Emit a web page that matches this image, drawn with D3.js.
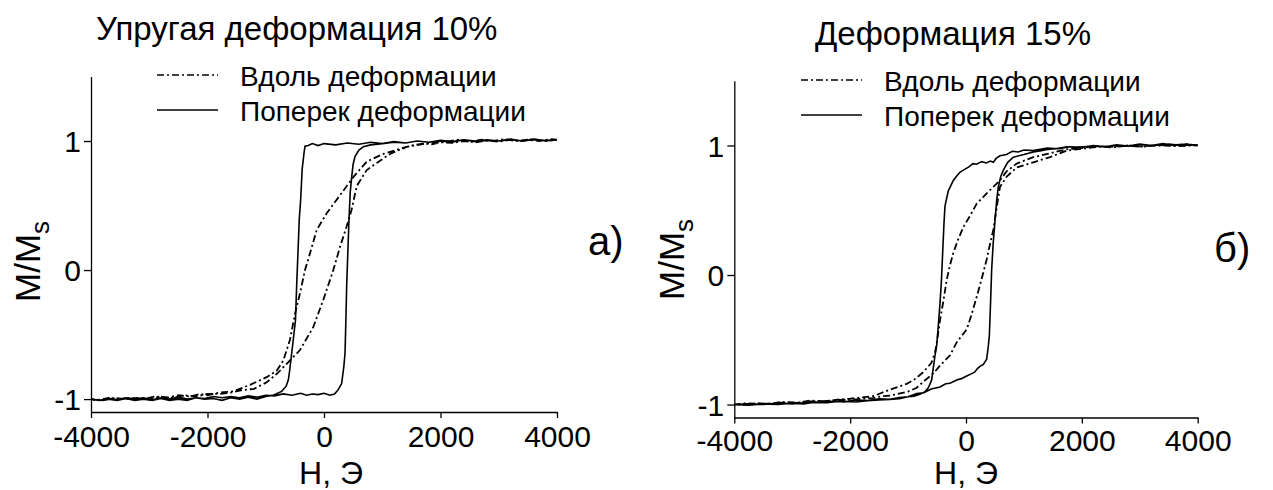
<!DOCTYPE html>
<html><head><meta charset="utf-8">
<script src="https://cdn.jsdelivr.net/npm/d3@7/dist/d3.min.js"></script>
<style>
body{margin:0;background:#fff;}
svg{display:block;font-family:"Liberation Sans",Arial,sans-serif;}
</style></head>
<body><svg id="c" width="1273" height="490"></svg>
<script>
// ---------- shared ----------
const xTicks = [-4000, -2000, 0, 2000, 4000];
const yTicks = [-1, 0, 1];
const xDomain = [-4000, 4000];
const yDomain = [-1.1, 1.5];
const legendLabels = ["Вдоль деформации", "Поперек деформации"];
const titles = ["Упругая деформация 10%", "Деформация 15%"];
const panelTags = ["а)", "б)"];
const xLabel = "Н, Э";

// ---------- panel а: along (dash-dot), descending then ascending branch ----------
const aAlongDownH = [4000,3800,3600,3400,3200,3000,2800,2600,2400,2200,2000,1850,1700,1500,1305,1018,733,503,275,46,-126,-240,-326,-412,-498,-584,-698,-812,-984,-1270,-1560,-1800,-2000,-2130,-2300,-2500,-2700,-2900,-3100,-3300,-3500,-3700,-3900,-4000];
const aAlongDownM = [1.01,1.0,1.015,1.0,1.01,0.995,1.005,0.99,1.0,0.985,0.99,0.975,0.98,0.965,0.94,0.90,0.84,0.72,0.58,0.44,0.31,0.13,0.0,-0.18,-0.34,-0.54,-0.70,-0.78,-0.83,-0.89,-0.94,-0.95,-0.97,-0.96,-0.98,-0.97,-0.99,-0.98,-1.0,-0.99,-1.0,-0.99,-1.01,-1.0];
const aAlongUpH = [-4000,-3800,-3600,-3400,-3200,-3000,-2800,-2600,-2400,-2200,-2000,-1800,-1600,-1400,-1200,-984,-800,-584,-412,-183,-11,160,275,390,475,561,733,905,1133,1420,1880,2100,2300,2500,2700,2900,3100,3300,3500,3700,3900,4000];
const aAlongUpM = [-1.0,-1.01,-0.99,-1.0,-0.99,-1.0,-0.98,-0.99,-0.97,-0.98,-0.96,-0.96,-0.95,-0.93,-0.92,-0.87,-0.80,-0.70,-0.62,-0.44,-0.23,0.0,0.18,0.34,0.47,0.65,0.775,0.83,0.90,0.955,0.99,0.995,1.01,0.995,1.01,1.0,1.015,1.0,1.01,1.0,1.015,1.01];
// panel а: across (solid)
const aAcrossDownH = [4000,3800,3600,3400,3200,3000,2800,2600,2400,2200,2000,1800,1600,1400,1200,1000,800,600,400,200,0,-100,-200,-270,-326,-345,-375,-400,-425,-450,-470,-490,-530,-555,-590,-612,-650,-727,-870,-1000,-1150,-1300,-1450,-1600,-1750,-1900,-2050,-2200,-2350,-2500,-2650,-2800,-2950,-3100,-3250,-3400,-3550,-3700,-3850,-4000];
const aAcrossDownM = [1.01,1.0,1.015,1.0,1.01,1.0,1.005,0.995,1.01,0.99,1.0,0.99,1.0,0.985,0.995,0.98,0.99,0.975,0.985,0.97,0.98,0.965,0.98,0.965,0.96,0.9,0.78,0.55,0.39,0.1,-0.13,-0.39,-0.55,-0.645,-0.78,-0.85,-0.9,-0.94,-0.97,-0.98,-1.0,-0.985,-1.0,-0.99,-1.01,-0.995,-1.0,-0.99,-1.01,-1.0,-1.01,-0.995,-1.01,-1.0,-1.01,-0.995,-1.01,-1.0,-1.01,-1.0];
const aAcrossUpH = [-4000,-3850,-3700,-3550,-3400,-3250,-3100,-2950,-2800,-2650,-2500,-2350,-2200,-2050,-1900,-1750,-1600,-1450,-1300,-1150,-1000,-850,-700,-550,-400,-300,-200,-100,0,100,180,240,303,340,361,375,389,410,429,450,475,500,532,600,675,800,1000,1200,1400,1600,1800,2000,2200,2400,2600,2800,3000,3200,3400,3600,3800,4000];
const aAcrossUpM = [-1.0,-1.01,-0.995,-1.005,-0.99,-1.0,-0.99,-1.005,-0.99,-1.0,-0.985,-1.0,-0.99,-0.995,-0.98,-0.99,-0.98,-0.99,-0.975,-0.985,-0.97,-0.975,-0.96,-0.97,-0.955,-0.97,-0.96,-0.965,-0.955,-0.97,-0.96,-0.93,-0.88,-0.75,-0.645,-0.4,-0.13,0.15,0.39,0.6,0.72,0.82,0.88,0.93,0.955,0.97,0.98,0.99,0.985,1.0,0.99,1.005,0.995,1.01,1.0,1.01,1.0,1.015,1.0,1.01,1.005,1.01];

// ---------- panel б ----------
const bAlongDownH = [4000,3800,3500,3300,3000,2800,2500,2250,2000,1739,1450,1162,876,700,587,470,357,184,60,-46,-140,-219,-280,-334,-390,-449,-490,-535,-600,-737,-900,-1024,-1313,-1601,-1800,-2000,-2176,-2400,-2700,-2900,-3200,-3400,-3600,-3800,-4000];
const bAlongDownM = [1.0,1.01,1.0,1.005,0.99,1.0,0.99,0.995,0.98,0.97,0.94,0.91,0.86,0.80,0.73,0.68,0.63,0.55,0.45,0.37,0.27,0.17,0.07,-0.04,-0.2,-0.35,-0.48,-0.60,-0.68,-0.75,-0.81,-0.84,-0.885,-0.935,-0.945,-0.955,-0.96,-0.975,-0.97,-0.985,-0.98,-0.995,-0.99,-1.0,-1.0];
const bAlongUpH = [-4000,-3800,-3500,-3200,-3000,-2700,-2500,-2200,-2000,-1800,-1600,-1450,-1300,-1000,-852,-700,-565,-449,-276,-161,12,100,184,270,357,420,472,530,587,703,876,1162,1450,1739,2000,2300,2550,2800,3050,3300,3600,4000];
const bAlongUpM = [-1.0,-0.99,-0.995,-0.985,-0.99,-0.975,-0.975,-0.965,-0.965,-0.955,-0.95,-0.935,-0.93,-0.9,-0.87,-0.81,-0.76,-0.70,-0.62,-0.52,-0.42,-0.3,-0.17,-0.03,0.12,0.25,0.35,0.52,0.68,0.76,0.83,0.87,0.91,0.96,0.975,0.99,0.985,1.0,0.99,1.0,0.995,1.0];
const bAcrossDownH = [4000,3800,3600,3400,3200,3000,2800,2600,2400,2200,2000,1800,1600,1400,1162,1000,900,800,700,587,520,472,420,350,270,184,120,50,-46,-100,-150,-219,-305,-340,-363,-380,-403,-425,-449,-480,-507,-535,-593,-650,-708,-795,-900,-1000,-1150,-1313,-1500,-1700,-1900,-2176,-2400,-2600,-2800,-3000,-3250,-3500,-3750,-4000];
const bAcrossDownM = [1.0,1.01,1.0,1.015,1.0,1.01,0.995,1.005,0.99,1.0,0.985,0.99,0.975,0.98,0.96,0.965,0.95,0.955,0.93,0.92,0.9,0.87,0.88,0.865,0.875,0.855,0.86,0.835,0.81,0.795,0.77,0.73,0.65,0.58,0.53,0.4,0.17,-0.05,-0.22,-0.4,-0.55,-0.62,-0.81,-0.87,-0.90,-0.92,-0.935,-0.94,-0.955,-0.96,-0.965,-0.97,-0.98,-0.975,-0.985,-0.98,-0.995,-0.99,-1.0,-0.995,-1.005,-1.0];
const bAcrossUpH = [-4000,-3750,-3500,-3250,-3000,-2750,-2500,-2300,-2100,-1900,-1700,-1500,-1313,-1150,-1000,-850,-737,-600,-449,-350,-276,-161,-80,12,80,150,200,242,300,357,385,403,425,443,470,501,530,558,600,645,720,817,1000,1162,1300,1400,1550,1739,1900,2200,2400,2600,2800,3000,3250,3500,3750,4000];
const bAcrossUpM = [-1.0,-0.995,-1.0,-0.99,-0.995,-0.985,-0.985,-0.975,-0.98,-0.965,-0.97,-0.955,-0.96,-0.945,-0.94,-0.915,-0.91,-0.88,-0.865,-0.84,-0.835,-0.81,-0.8,-0.78,-0.765,-0.75,-0.72,-0.705,-0.69,-0.65,-0.55,-0.47,-0.2,0.04,0.25,0.42,0.58,0.68,0.76,0.81,0.87,0.91,0.93,0.95,0.96,0.97,0.975,0.99,0.985,0.995,0.99,1.0,0.995,1.005,1.0,1.01,1.0,1.005];

function loop(dH, dM, uH, uM){
  const pts = dH.map((h,i)=>[h,dM[i]]);
  return pts.concat(uH.map((h,i)=>[h,uM[i]]));
}

const panels = [
  {x0:91, x1:557, yTop:76.5, yBot:412, title:titles[0], tag:panelTags[0], tickPad:2,
   titleX:96, titleY:40, legX:157, legY:75, tagX:588, tagY:255, ylabX:40, ylabY:302, xlabX:331,
   along:loop(aAlongDownH,aAlongDownM,aAlongUpH,aAlongUpM),
   across:loop(aAcrossDownH,aAcrossDownM,aAcrossUpH,aAcrossUpM)},
  {x0:734.3, x1:1197.7, yTop:80.7, yBot:417.5, title:titles[1], tag:panelTags[1], tickPad:0,
   titleX:815, titleY:45, legX:801, legY:80, tagX:1214, tagY:262, ylabX:684, ylabY:300, xlabX:966,
   along:loop(bAlongDownH,bAlongDownM,bAlongUpH,bAlongUpM),
   across:loop(bAcrossDownH,bAcrossDownM,bAcrossUpH,bAcrossUpM)}
];

const svg = d3.select("#c");
const DASH = "7,3,2,3";

panels.forEach(p=>{
  const x = d3.scaleLinear().domain(xDomain).range([p.x0,p.x1]);
  const y = d3.scaleLinear().domain(yDomain).range([p.yBot,p.yTop]);
  const g = svg.append("g");

  const xa = g.append("g").attr("transform",`translate(0,${p.yBot})`)
    .call(d3.axisBottom(x).tickValues(xTicks).tickSize(6).tickSizeOuter(0).tickPadding(p.tickPad));
  const ya = g.append("g").attr("transform",`translate(${p.x0},0)`)
    .call(d3.axisLeft(y).tickValues(yTicks).tickSize(7).tickSizeOuter(0).tickPadding(3));
  [xa,ya].forEach(a=>{
    a.selectAll("path").attr("stroke","#000").attr("stroke-width",1.3);
    a.selectAll("line").attr("stroke","#000").attr("stroke-width",1.3);
    a.selectAll("text").attr("fill","#000").style("font-size","30px").style("font-family","Liberation Sans, Arial, sans-serif");
    a.selectAll("text").text(d=>String(d));
  });
  xa.selectAll("text").attr("dy","0.9em");
  ya.selectAll("text").attr("dy","0.36em");

  const line = d3.line().x(d=>x(d[0])).y(d=>y(d[1]));
  g.append("path").datum(p.across).attr("d",line).attr("fill","none").attr("stroke","#000").attr("stroke-width",1.6);
  g.append("path").datum(p.along).attr("d",line).attr("fill","none").attr("stroke","#000").attr("stroke-width",1.8).attr("stroke-dasharray",DASH);

  // title
  g.append("text").attr("x",p.titleX).attr("y",p.titleY).style("font-size","33px").text(p.title);
  // legend
  const lg = g.append("g");
  legendLabels.forEach((lab,i)=>{
    const yy = p.legY + i*35;
    lg.append("line").attr("x1",p.legX).attr("x2",p.legX+61).attr("y1",yy).attr("y2",yy)
      .attr("stroke","#000").attr("stroke-width",1.6).attr("stroke-dasharray", i===0?DASH:null);
    lg.append("text").attr("x",p.legX+83).attr("y",yy+11).style("font-size","28px").text(lab);
  });
  // tag
  g.append("text").attr("x",p.tagX).attr("y",p.tagY).style("font-size","40px").text(p.tag);
  // y label
  const yl = g.append("text").attr("transform",`translate(${p.ylabX},${p.ylabY}) rotate(-90)`).style("font-size","35px");
  yl.append("tspan").text("M/M");
  yl.append("tspan").attr("dy","9").style("font-size","26px").text("s");
  // x label
  g.append("text").attr("x",p.xlabX).attr("y",484).attr("text-anchor","middle").style("font-size","32px").text(xLabel);
});
</script></body></html>
